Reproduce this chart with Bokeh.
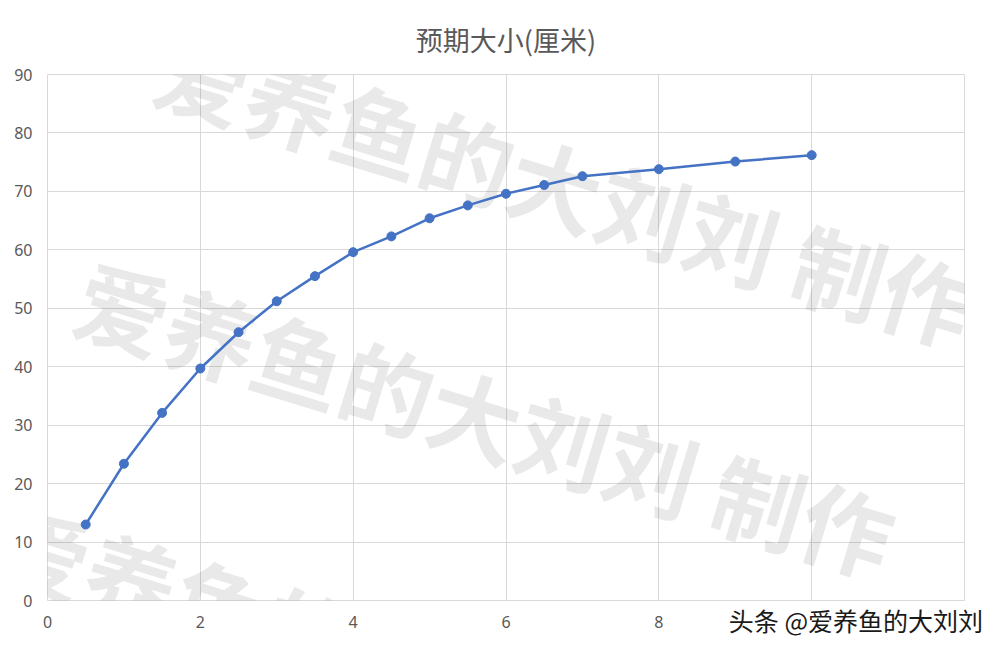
import math
from bokeh.plotting import figure
from bokeh.models import FixedTicker, Label, Range1d
from bokeh.embed import file_html
from bokeh.resources import INLINE

# ---- data ----
title_text = "预期大小(厘米)"
x_vals = [0.5, 1, 1.5, 2, 2.5, 3, 3.5, 4, 4.5, 5, 5.5, 6, 6.5, 7, 8, 9, 10]
y_vals = [13.0, 23.4, 32.1, 39.7, 45.9, 51.2, 55.5, 59.6, 62.3, 65.4, 67.6,
          69.6, 71.1, 72.6, 73.8, 75.1, 76.2]
x_ticks = [0, 2, 4, 6, 8, 10, 12]
x_hidden = [10, 12]          # covered by the credit line in the picture
y_ticks = [0, 10, 20, 30, 40, 50, 60, 70, 80, 90]
watermark_text = "爱养鱼的大刘刘 制作"
watermark_x = [1.48, 0.43, -0.615]
watermark_y = [92.3, 52.9, 11.0]
credit_text = "头条 @爱养鱼的大刘刘"
credit_pad = 28              # ideographic spaces that push the credit to the right

GRID = "#d9d9d9"
TXT = "#595959"
BLUE = "#4472c4"

p = figure(width=992, height=643, output_backend="svg", toolbar_location=None,
           x_range=Range1d(0, 12), y_range=Range1d(0, 90),
           min_border_left=47, min_border_right=28,
           min_border_top=74, min_border_bottom=43)

p.title.text = title_text
p.title.align = "center"
p.title.text_font = "Noto Sans CJK SC"
p.title.text_font_size = "27px"
p.title.text_font_style = "normal"
p.title.text_color = TXT
p.title.standoff = 32

p.outline_line_color = GRID
p.background_fill_color = "white"
p.border_fill_color = "white"

for ax, ticks in ((p.xaxis, x_ticks), (p.yaxis, y_ticks)):
    ax.ticker = FixedTicker(ticks=ticks)
    ax.axis_line_color = None
    ax.major_tick_line_color = None
    ax.minor_tick_line_color = None
    ax.major_tick_out = 0
    ax.major_tick_in = 0
    ax.major_label_text_font = "Noto Sans"
    ax.major_label_text_font_size = "16px"
    ax.major_label_text_color = TXT
    ax.major_label_standoff = 15
p.xaxis.major_label_overrides = {t: "" for t in x_hidden}

# credit line, bottom right (x axis title pulled up beside the tick labels)
xa = p.xaxis[0]
xa.axis_label = "\u3000" * credit_pad + credit_text
xa.axis_label_text_font = "Noto Sans CJK SC"
xa.axis_label_text_font_size = "25px"
xa.axis_label_text_font_style = "normal"
xa.axis_label_text_color = "#1a1a1a"
xa.axis_label_standoff = -29

p.xgrid.ticker = FixedTicker(ticks=x_ticks)
p.ygrid.ticker = FixedTicker(ticks=y_ticks)
p.xgrid.grid_line_color = GRID
p.ygrid.grid_line_color = GRID

p.line(x_vals, y_vals, line_color=BLUE, line_width=2.5)
p.scatter(x_vals, y_vals, size=9, fill_color=BLUE, line_color=BLUE)

# diagonal watermarks
for wx, wy in zip(watermark_x, watermark_y):
    p.add_layout(Label(x=wx, y=wy, text=watermark_text, angle=-17, angle_units="deg",
                       text_font="Noto Sans CJK SC", text_font_style="bold",
                       text_font_size="92px", text_color="black", text_alpha=0.085,
                       text_align="left", text_baseline="middle", level="underlay"))

open("out.html", "w").write(file_html(p, INLINE))
